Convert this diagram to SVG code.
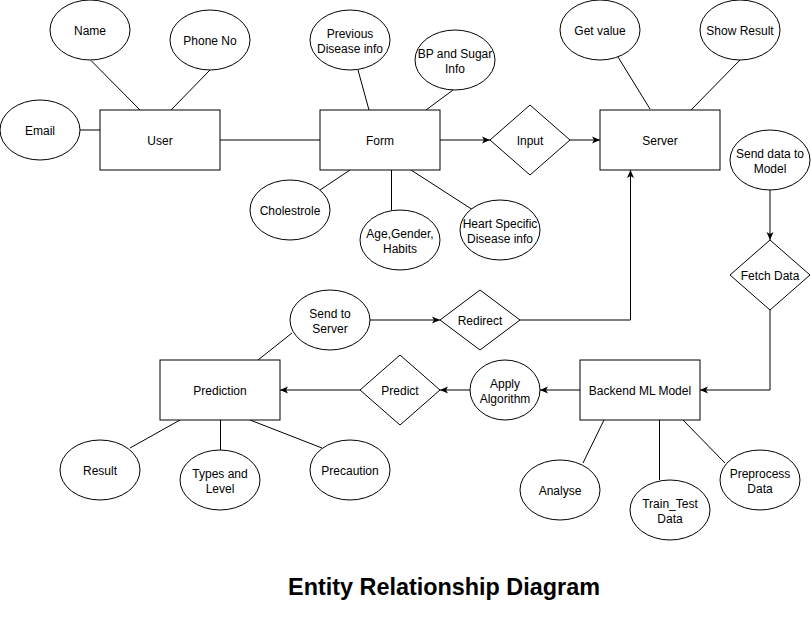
<svg xmlns="http://www.w3.org/2000/svg" width="811" height="621" viewBox="0 0 811 621">
<style>
.s{fill:#fff;stroke:#000;stroke-width:1}
.t{font-family:"Liberation Sans",Arial,sans-serif;font-size:12px;fill:#000;text-anchor:middle}
.c line,.c polyline{stroke:#000;stroke-width:1;fill:none}
.a{marker-end:url(#arr)}
.title{font-family:"Liberation Sans",Arial,sans-serif;font-size:23.4px;font-weight:bold;fill:#000;text-anchor:middle}
</style>
<defs>
<marker id="arr" markerWidth="10" markerHeight="10" refX="8" refY="4" orient="auto" markerUnits="userSpaceOnUse">
<path d="M0,0.5 L8,4 L0,7.5 L2,4 z" fill="#000"/>
</marker>
</defs>
<rect width="811" height="621" fill="#fff"/>
<g class="c" id="connectors">
<line x1="91" y1="60.5" x2="140" y2="110"/>
<line x1="210" y1="70" x2="171" y2="110"/>
<line x1="80" y1="130" x2="100" y2="130"/>
<line x1="220" y1="140" x2="320" y2="140"/>
<line x1="358" y1="70" x2="369" y2="110"/>
<line x1="453" y1="90" x2="426" y2="110"/>
<line x1="320" y1="190" x2="350" y2="170"/>
<line x1="391.5" y1="170" x2="391.5" y2="210"/>
<line x1="411" y1="170" x2="473" y2="210"/>
<line class="a" x1="440" y1="140" x2="490" y2="140"/>
<line class="a" x1="570" y1="140" x2="600" y2="140"/>
<line x1="618" y1="57" x2="650" y2="109"/>
<line x1="740" y1="60" x2="691" y2="110"/>
<line class="a" x1="770" y1="190" x2="770" y2="240"/>
<polyline class="a" points="770,310 770,390 700,390"/>
<line class="a" x1="580" y1="390" x2="540" y2="390"/>
<line class="a" x1="470" y1="390" x2="440" y2="390"/>
<line class="a" x1="360" y1="390" x2="280" y2="390"/>
<line class="a" x1="370" y1="320" x2="440" y2="320"/>
<polyline class="a" points="520,320 630.5,320 630.5,170"/>
<line x1="292" y1="333" x2="258" y2="360"/>
<line x1="130" y1="448" x2="180" y2="420"/>
<line x1="220.5" y1="420" x2="220.5" y2="450"/>
<line x1="250" y1="420" x2="322" y2="448"/>
<line x1="583" y1="463" x2="604" y2="420"/>
<line x1="659.5" y1="420" x2="659.5" y2="480"/>
<line x1="683" y1="420" x2="725" y2="463"/>
</g>
<g id="name"><ellipse class="s" cx="90" cy="30" rx="40" ry="30"/><text class="t" x="90" y="35">Name</text></g>
<g id="phone"><ellipse class="s" cx="210" cy="40" rx="40" ry="30"/><text class="t" x="210" y="45">Phone No</text></g>
<g id="email"><ellipse class="s" cx="40" cy="130" rx="40" ry="30"/><text class="t" x="40" y="135">Email</text></g>
<g id="user"><rect class="s" x="100" y="110" width="120" height="60"/><text class="t" x="160" y="145">User</text></g>
<g id="form"><rect class="s" x="320" y="110" width="120" height="60"/><text class="t" x="380" y="145">Form</text></g>
<g id="prevdisease"><ellipse class="s" cx="350" cy="40" rx="40" ry="30"/><text class="t" x="350" y="37.5">Previous</text><text class="t" x="350" y="52.5">Disease info</text></g>
<g id="bpsugar"><ellipse class="s" cx="455" cy="60" rx="40" ry="30"/><text class="t" x="455" y="57.5">BP and Sugar</text><text class="t" x="455" y="72.5">Info</text></g>
<g id="cholestrole"><ellipse class="s" cx="290" cy="210" rx="40" ry="30"/><text class="t" x="290" y="215">Cholestrole</text></g>
<g id="age"><ellipse class="s" cx="400" cy="240" rx="40" ry="30"/><text class="t" x="400" y="237.5">Age,Gender,</text><text class="t" x="400" y="252.5">Habits</text></g>
<g id="heart"><ellipse class="s" cx="500" cy="230" rx="40" ry="30"/><text class="t" x="500" y="227.5">Heart Specific</text><text class="t" x="500" y="242.5">Disease info</text></g>
<g id="input"><polygon class="s" points="490,140 530,105 570,140 530,175"/><text class="t" x="530" y="145">Input</text></g>
<g id="server"><rect class="s" x="600" y="110" width="120" height="60"/><text class="t" x="660" y="145">Server</text></g>
<g id="getvalue"><ellipse class="s" cx="600" cy="30" rx="40" ry="30"/><text class="t" x="600" y="35">Get value</text></g>
<g id="showresult"><ellipse class="s" cx="740" cy="30" rx="40" ry="30"/><text class="t" x="740" y="35">Show Result</text></g>
<g id="senddata"><ellipse class="s" cx="770" cy="160" rx="40" ry="30"/><text class="t" x="770" y="157.5">Send data to</text><text class="t" x="770" y="172.5">Model</text></g>
<g id="fetch"><polygon class="s" points="730,275 770,240 810,275 770,310"/><text class="t" x="770" y="280">Fetch Data</text></g>
<g id="redirect"><polygon class="s" points="440,320 480,290 520,320 480,350"/><text class="t" x="480" y="325">Redirect</text></g>
<g id="sendserver"><ellipse class="s" cx="330" cy="320" rx="40" ry="30"/><text class="t" x="330" y="317.5">Send to</text><text class="t" x="330" y="332.5">Server</text></g>
<g id="prediction"><rect class="s" x="160" y="360" width="120" height="60"/><text class="t" x="220" y="395">Prediction</text></g>
<g id="predict"><polygon class="s" points="360,390 400,355 440,390 400,425"/><text class="t" x="400" y="395">Predict</text></g>
<g id="apply"><ellipse class="s" cx="505" cy="390" rx="35" ry="30"/><text class="t" x="505" y="387.5">Apply</text><text class="t" x="505" y="402.5">Algorithm</text></g>
<g id="backend"><rect class="s" x="580" y="360" width="120" height="60"/><text class="t" x="640" y="395">Backend ML Model</text></g>
<g id="analyse"><ellipse class="s" cx="560" cy="490" rx="40" ry="30"/><text class="t" x="560" y="495">Analyse</text></g>
<g id="traintest"><ellipse class="s" cx="670" cy="510" rx="40" ry="30"/><text class="t" x="670" y="507.5">Train_Test</text><text class="t" x="670" y="522.5">Data</text></g>
<g id="preprocess"><ellipse class="s" cx="760" cy="480" rx="40" ry="30"/><text class="t" x="760" y="477.5">Preprocess</text><text class="t" x="760" y="492.5">Data</text></g>
<g id="result"><ellipse class="s" cx="100" cy="470" rx="40" ry="30"/><text class="t" x="100" y="475">Result</text></g>
<g id="types"><ellipse class="s" cx="220" cy="480" rx="40" ry="30"/><text class="t" x="220" y="477.5">Types and</text><text class="t" x="220" y="492.5">Level</text></g>
<g id="precaution"><ellipse class="s" cx="350" cy="470" rx="40" ry="30"/><text class="t" x="350" y="475">Precaution</text></g>
<text class="title" x="444" y="595">Entity Relationship Diagram</text>
</svg>
